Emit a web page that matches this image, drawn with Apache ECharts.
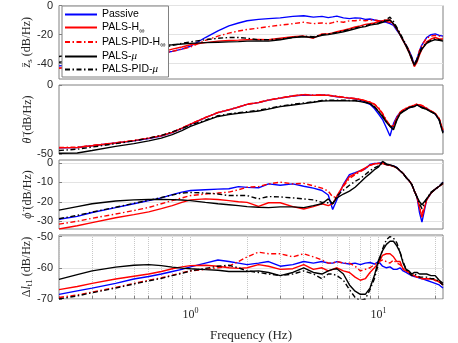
<!DOCTYPE html>
<html>
<head>
<meta charset="utf-8">
<script src="https://cdn.jsdelivr.net/npm/echarts@6/dist/echarts.min.js"></script>
<style>
  html, body { margin: 0; padding: 0; background: #fff; }
  #main { width: 458px; height: 343px; }
</style>
</head>
<body>
<div id="main"></div>
<script>
// frequency grid (Hz), shared by every panel
const freq = [0.2, 0.25, 0.3, 0.4, 0.5, 0.6, 0.7, 0.8, 0.9,
  1, 1.2, 1.4, 1.6, 1.8,
  2, 2.3, 2.6, 3, 3.5,
  4, 4.5, 5, 5.4, 5.7,
  6, 6.5, 7, 7.5, 8,
  8.5, 9, 9.5, 10, 10.5,
  11, 11.5, 12, 12.5, 13,
  13.5, 14, 14.5, 15, 15.5,
  16, 16.5, 17, 18, 19,
  20, 21, 22]

// panel 1: body heave acceleration
const zsPassive = [-41.5, -40.5, -39.5, -38, -36.5, -35, -33, -31.5, -30,
  -28, -22, -17.5, -14, -12,
  -10.5, -9.5, -9, -8.5, -7.5,
  -7, -8, -7.5, -8.3, -7.8,
  -7.3, -8.5, -9, -8.5, -8.7,
  -9.5, -9.3, -10, -10.5, -11,
  -11.5, -12.5, -13.6, -17, -20,
  -24, -27.3, -31, -35, -41,
  -36.5, -31, -27, -22, -20,
  -19.5, -20.5, -21]
const zsHinf = [-43, -42, -41, -39, -37, -35, -32, -30, -28.5,
  -27, -25.5, -24.5, -24, -23.8,
  -23.5, -23.3, -23.5, -22.5, -21.5,
  -21, -22.5, -19.5, -19.5, -18.8,
  -18, -17, -16, -14.8, -14,
  -13, -12.5, -12, -11, -10.5,
  -10, -10, -13, -16, -20,
  -24, -28, -32, -37, -42,
  -39, -34, -30, -25, -23,
  -22, -23, -23]
const zsPidHinf = [-43, -42.5, -42, -40, -38, -36, -33, -31.5, -30,
  -28.5, -24, -21, -19, -17.5,
  -16.5, -15.5, -14.5, -13.5, -12.5,
  -11.5, -12.5, -12, -12.5, -11.8,
  -11, -11.5, -10.5, -10.5, -10,
  -10.5, -10, -10, -10.5, -10.5,
  -11, -11.5, -13, -16, -20,
  -24, -27, -31, -36, -42,
  -37, -31, -27, -22.5, -21,
  -20.5, -21, -21.5]
const zsMu = [-35, -33.5, -32, -30.5, -29.5, -28.5, -27.5, -27, -26.5,
  -26, -25.5, -25.2, -25, -24.8,
  -24.5, -24.3, -24.5, -23.5, -22,
  -21.5, -22, -20.5, -20, -19.5,
  -19, -18, -17, -16, -15,
  -14.5, -13.5, -13, -12.5, -11.5,
  -10.5, -10, -12.5, -16, -20,
  -24, -28, -32, -37, -41,
  -38, -33, -30, -26, -24.5,
  -23.5, -24, -24.5]
const zsPidMu = [-39, -37.5, -36, -34, -32, -30.5, -29, -27.5, -26,
  -25, -23.5, -22.5, -22, -22,
  -22.5, -23.5, -23.5, -23, -22,
  -21, -21.5, -20, -19.5, -19,
  -18.5, -17.5, -16.5, -15.5, -14.5,
  -14, -13, -12.5, -12, -11,
  -9.5, -8, -11, -15, -19,
  -23, -27, -31, -36, -40,
  -37, -32, -29, -25.5, -24,
  -23, -23.5, -24]

// panel 2: pitch acceleration
const thPassive = [-45.5, -45.3, -44, -42, -40.5, -38.8, -37, -34.5, -31.5,
  -28.5, -23.7, -20, -18, -16,
  -14, -12.8, -11, -9.5, -8,
  -7.2, -7.5, -7.2, -7.5, -8,
  -8.5, -9, -9.5, -10, -11,
  -12.5, -14, -17, -21, -25,
  -31, -37, -28, -23, -20,
  -18.5, -17.5, -16.5, -16, -15,
  -14.5, -15, -15.5, -17, -19,
  -21, -25, -34]
const thHinf = [-45.5, -45.3, -44, -42, -40.3, -38.5, -36.8, -34.3, -31.3,
  -28.3, -23.7, -20, -18, -16,
  -14, -12.8, -11, -9.5, -8,
  -7, -7.5, -7.3, -7.5, -8,
  -8.3, -9, -9.5, -10, -10.5,
  -11.5, -12.5, -14, -17, -21,
  -26, -30, -30, -24, -20,
  -18, -17, -16, -15.5, -14.5,
  -14, -14.5, -15, -17, -19,
  -20.5, -24.5, -33]
const thPidHinf = [-45.3, -45, -43.8, -41.8, -40.2, -38.5, -36.7, -34.2, -31.2,
  -28.2, -23.5, -19.8, -17.8, -15.8,
  -13.8, -12.6, -10.8, -9.3, -7.8,
  -6.9, -7.3, -7.1, -7.3, -7.8,
  -8.1, -8.8, -9.3, -9.8, -10.3,
  -11.3, -12.3, -13.8, -16.5, -20.5,
  -25.5, -29.5, -29.5, -23.5, -19.8,
  -17.8, -16.8, -15.8, -15.3, -14.3,
  -13.8, -14.3, -14.8, -16.8, -18.8,
  -20.3, -24.3, -32.5]
const thMu = [-49.5, -49.3, -47.5, -44.5, -42.5, -40.5, -38.5, -36, -33,
  -30, -26, -22.8, -21.5, -20.5,
  -19.8, -18.8, -17.5, -15.7, -14.5,
  -13.5, -12.5, -11.6, -11.5, -11.4,
  -11.4, -11.4, -11.5, -11.5, -12,
  -12.8, -13.5, -16, -19.3, -23,
  -27, -30, -32.5, -25.5, -21,
  -19.3, -18, -16.5, -16, -15.7,
  -14.5, -15.5, -16.5, -17.6, -19.5,
  -21, -25.5, -35]
const thPidMu = [-47.5, -46.5, -45, -42.5, -40.5, -38.5, -36.5, -34, -31.5,
  -29, -25.5, -22.3, -21, -20,
  -19.3, -18.3, -17, -15.3, -14,
  -13, -12.2, -11.2, -11, -11,
  -11, -11, -11.2, -11.2, -11.6,
  -12.4, -13.2, -15.5, -19, -22.5,
  -26.5, -29.5, -31.5, -25, -20.5,
  -19, -17.7, -16.3, -15.8, -15.5,
  -14.5, -15.3, -16.3, -17.5, -19.3,
  -21, -25, -34]

// panel 3: roll acceleration
const phPassive = [-29, -27.5, -25.5, -23, -21, -19.4, -18, -16.3, -15,
  -14.2, -13.8, -13.5, -13.3, -12.2,
  -12.6, -12.8, -10.8, -11.5, -10.8,
  -12, -13, -14.2, -16.5, -24,
  -19, -11, -6, -5, -4,
  -3, -0.8, -0.3, -0.2, 0.3,
  -0.8, -1.2, -1.5, -2.3, -4,
  -5.4, -7.5, -9, -11, -14.5,
  -17.5, -25.5, -30.5, -19, -15.5,
  -13.5, -12, -10]
const phHinf = [-34, -32.3, -30.7, -28.2, -26.6, -25.2, -23.5, -22, -20.3,
  -19, -18.5, -18.8, -19.4, -20,
  -20.3, -22.4, -20.5, -20.5, -22.5,
  -23.7, -22.5, -21, -22, -21,
  -17, -11.5, -7, -5.5, -4,
  -2.5, -1.2, -0.5, -0.3, -0.3,
  -1, -1.2, -1.8, -2.5, -4,
  -5.4, -7.5, -9, -11, -14.5,
  -17.5, -23, -28, -19, -15.5,
  -13.5, -12, -10.5]
const phPidHinf = [-31.5, -30, -28.5, -26.3, -24.5, -22.9, -21, -19.4, -18,
  -16.8, -16, -15.5, -15, -13.8,
  -12.5, -12.2, -10.8, -9.9, -10.8,
  -10.5, -11.8, -13, -14.5, -17.5,
  -17.5, -12, -8, -6, -4.5,
  -3, -1.2, -0.5, -0.2, 0,
  -0.8, -1.2, -1.8, -2.5, -4,
  -5.4, -7.5, -9, -11, -14.5,
  -17.5, -22.5, -26, -19, -15.5,
  -13.5, -12, -10.5]
const phMu = [-24.3, -22.5, -21, -19.6, -19, -18.8, -18.8, -18.9, -19.1,
  -19.4, -20.3, -21, -21.5, -22,
  -22.5, -22.8, -23, -22.6, -22.6,
  -23, -22, -21, -18.5, -21,
  -18, -16, -14.5, -12.5, -10,
  -7.5, -5.5, -3.5, -2, 0.8,
  -0.5, -1, -1.5, -2.5, -4,
  -5.4, -7.5, -9, -11, -14.5,
  -17.5, -20, -21.5, -18.5, -15.5,
  -13.5, -12, -10.5]
const phPidMu = [-28.7, -27, -25.3, -22.8, -20.8, -19.2, -17.8, -16.5, -15.5,
  -15.2, -15.5, -16, -16.8, -16.8,
  -16.8, -18.5, -17.3, -17.5, -18,
  -18.5, -19, -20.3, -20.5, -21,
  -17, -14, -11.5, -9.5, -8,
  -6, -4, -2.5, -1.5, 0,
  -0.8, -1.2, -1.7, -2.5, -4,
  -5.4, -7.5, -9, -11, -14.5,
  -17.5, -21, -23.5, -18.5, -15,
  -13.5, -12, -10]

// panel 4: actuator length
const dlPassive = [-68.5, -67.4, -66.5, -65, -63.6, -62.8, -62, -61.2, -60.5,
  -59.7, -58.5, -57.5, -58, -58.5,
  -59, -58.5, -58, -59.5, -59,
  -58, -58.5, -58, -58.5, -58.5,
  -58, -58.5, -58.8, -58.5, -59,
  -58.5, -58.3, -58.8, -58, -59.5,
  -60, -59.7, -60.5, -60.5, -60,
  -61, -61.5, -62, -62.5, -62.8,
  -63, -63.3, -63.5, -64, -64.5,
  -65, -65.5, -66.5]
const dlHinf = [-67, -66, -65, -63.6, -62.7, -62, -61.2, -60.3, -59.7,
  -59.3, -59.2, -59.5, -60, -60.2,
  -60, -59, -59.5, -60.5, -60.3,
  -59, -60.5, -60, -61, -60.5,
  -60, -61, -61.5, -63, -64,
  -63.5, -61.5, -60, -58.5, -56,
  -55.5, -55.5, -56.5, -58, -58,
  -60.5, -61, -61.5, -62.5, -62.5,
  -63, -63, -63.5, -63.5, -63.5,
  -64, -64.5, -65.5]
const dlPidHinf = [-69.5, -68.7, -67.8, -66.3, -65, -64, -63.2, -62.4, -61.6,
  -61, -60.5, -60, -59.5, -58,
  -56.5, -55, -55.5, -55.5, -56.5,
  -55.5, -56.5, -57.5, -58.5, -58.5,
  -58, -58.5, -58.5, -59.5, -61,
  -60.5, -60, -59, -58, -57.5,
  -58, -58.5, -57.5, -58.5, -59,
  -60, -61, -61.5, -62, -62.5,
  -63, -63, -63.5, -63.5, -63.5,
  -64, -64.5, -65.5]
const dlMu = [-63.7, -62.2, -61, -59.8, -59.2, -59, -59.3, -59.8, -60.1,
  -60.3, -60.6, -60.8, -61.2, -61.2,
  -61.2, -61, -61.5, -62.5, -61.5,
  -60, -61.5, -62, -61, -60.5,
  -60.3, -62, -65.5, -67.5, -68.5,
  -68.5, -66.5, -62.5, -57.5, -54.5,
  -52.5, -51.5, -51.5, -53, -55,
  -58.5, -60.5, -61, -62, -61.5,
  -61.5, -62, -62, -62, -62.5,
  -62.5, -64, -65]
const dlPidMu = [-70, -69, -68, -66.5, -65.2, -64.2, -63.4, -62.5, -61.8,
  -61, -60.2, -59.5, -59.2, -60,
  -61, -61.5, -62, -62.5, -62,
  -61, -62, -63.5, -62, -62,
  -62.5, -64, -67, -69.5, -70.5,
  -70, -67, -63.5, -58.5, -54,
  -51, -50, -50.5, -52, -55,
  -58, -60.5, -61.5, -62.5, -62,
  -62.5, -63, -63, -63, -63.5,
  -63.5, -64.5, -65.5]

// tick values
const xMinorTicks = [0.2, 0.3, 0.4, 0.5, 0.6, 0.7, 0.8, 0.9, 1, 2, 3, 4, 5, 6, 7, 8, 9, 10, 20]
const xMajorTicks = [1, 10]
const yTicks = [[-40, -20, 0], [-50, 0], [-30, -20, -10, 0], [-70, -60, -50]]
const yRange = [[-50.5, 0], [-50, 0], [-34, 1.5], [-70, -49.5]]
const yNames = [
  '{i|z̈}{sub|s} (dB/Hz)',
  '{i|θ̈} (dB/Hz)',
  '{i|ϕ̈} (dB/Hz)',
  'Δ{i|l}{sub|t1} (dB/Hz)'
]

const chart = echarts.init(document.getElementById('main'))

const grids = [
  { top: 5, height: 74 },
  { top: 85, height: 69 },
  { top: 160, height: 69 },
  { top: 235, height: 70 }
].map(g => ({
  left: 59, right: 15, top: g.top, height: g.height,
  show: true, borderColor: '#808080', borderWidth: 1, backgroundColor: '#fff'
}))

const serif = 'Liberation Serif'
const sans = 'Liberation Sans'

const xAxes = grids.map((g, i) => {
  const bottom = i === 3
  return {
    type: 'log', logBase: 10, gridIndex: i, min: 0.2, max: 22,
    axisLine: { show: false },
    axisTick: { show: bottom, inside: true, length: 3, customValues: xMinorTicks,
      lineStyle: { color: '#808080' } },
    splitLine: { show: bottom, lineStyle: { color: '#c8c8c8', type: 'dotted', width: 1 } },
    axisLabel: {
      show: bottom, customValues: xMajorTicks, margin: 8,
      formatter: v => '10{sup|' + Math.round(Math.log10(v)) + '}',
      fontFamily: serif, fontSize: 12, color: '#262626',
      rich: { sup: { fontFamily: serif, fontSize: 8, color: '#262626', padding: [0, 0, 7, 0] } }
    },
    name: bottom ? 'Frequency (Hz)' : '',
    nameLocation: 'middle', nameGap: 30,
    nameTextStyle: { fontFamily: serif, fontSize: 13, color: '#262626' }
  }
})

const yAxes = grids.map((g, i) => ({
  type: 'value', gridIndex: i, min: yRange[i][0], max: yRange[i][1],
  axisLine: { show: false },
  axisTick: { show: true, inside: true, length: 3, customValues: yTicks[i],
    lineStyle: { color: '#808080' } },
  splitLine: { show: i !== 1, lineStyle: { color: '#e3e3e3', width: 1 } },
  axisLabel: { customValues: yTicks[i], margin: 6, fontFamily: sans, fontSize: 11, color: '#262626' },
  name: yNames[i], nameLocation: 'middle', nameGap: 25, nameMoveOverlap: false,
  nameTextStyle: {
    fontFamily: serif, fontSize: 12, color: '#262626',
    rich: {
      i: { fontFamily: serif, fontSize: 12, fontStyle: 'italic', color: '#262626' },
      sub: { fontFamily: serif, fontSize: 9, color: '#262626', padding: [6, 0, 0, 0] }
    }
  }
}))

const dashDot = [5, 2.5, 1.5, 2.5]
const seriesDefs = [
  { name: 'Passive', color: '#0000ff', type: 'solid', sets: [zsPassive, thPassive, phPassive, dlPassive] },
  { name: 'PALS-H∞', color: '#ff0000', type: 'solid', sets: [zsHinf, thHinf, phHinf, dlHinf] },
  { name: 'PALS-PID-H∞', color: '#ff0000', type: dashDot, sets: [zsPidHinf, thPidHinf, phPidHinf, dlPidHinf] },
  { name: 'PALS-μ', color: '#000000', type: 'solid', sets: [zsMu, thMu, phMu, dlMu] },
  { name: 'PALS-PID-μ', color: '#000000', type: dashDot, sets: [zsPidMu, thPidMu, phPidMu, dlPidMu] }
]

const series = []
seriesDefs.forEach(d => {
  d.sets.forEach((vals, g) => {
    series.push({
      name: d.name, type: 'line', xAxisIndex: g, yAxisIndex: g,
      symbol: 'none', showSymbol: false, clip: true,
      lineStyle: { color: d.color, width: 1.4, type: d.type },
      itemStyle: { color: d.color },
      data: freq.map((f, k) => [f, vals[k]])
    })
  })
})

const option = {
  animation: false,
  backgroundColor: '#fff',
  grid: grids,
  xAxis: xAxes,
  yAxis: yAxes,
  legend: {
    orient: 'vertical', left: 62, top: 6,
    data: seriesDefs.map(d => d.name),
    itemWidth: 32, itemHeight: 10, itemGap: 2,
    padding: [3, 3, 2, 2],
    itemStyle: { opacity: 0 },
    backgroundColor: '#fff', borderColor: '#808080', borderWidth: 1, borderRadius: 0,
    formatter: name => name.replace('H∞', 'H{sub|∞}').replace('μ', '{i|μ}'),
    textStyle: {
      fontFamily: sans, fontSize: 10.5, color: '#000',
      rich: {
        sub: { fontFamily: sans, fontSize: 7.5, color: '#000', padding: [6, 0, 0, 0] },
        i: { fontFamily: serif, fontSize: 11, fontStyle: 'italic', color: '#000' }
      }
    }
  },
  series: series
}

chart.setOption(option)
</script>
</body>
</html>
